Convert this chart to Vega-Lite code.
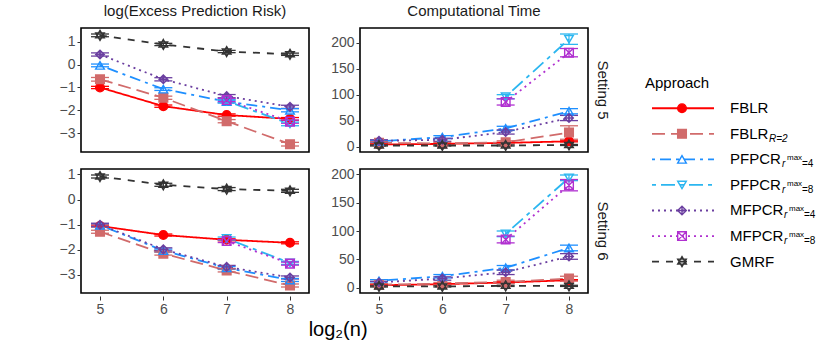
{
  "$schema": "https://vega.github.io/schema/vega-lite/v6.json",
  "padding": {"left": 58, "top": 4, "right": 0, "bottom": 0},
  "config": {
    "font": "Liberation Sans",
    "view": {"stroke": "#000000", "strokeWidth": 1.6},
    "axis": {"domain": false, "grid": false, "labelFontSize": 14, "labelColor": "#4D4D4D", "tickColor": "#333333", "tickSize": 4, "labelPadding": 2},
    "header": {"labelFontSize": 15, "labelColor": "#1A1A1A"},
    "concat": {"spacing": 24}
  },
  "datasets": {
    "main": [
      {"s":5,"m":"L","a":"FBLR","n":5,"v":-1.00,"lo":-1.05,"hi":-0.95},
      {"s":5,"m":"L","a":"FBLR","n":6,"v":-1.82,"lo":-1.87,"hi":-1.77},
      {"s":5,"m":"L","a":"FBLR","n":7,"v":-2.21,"lo":-2.26,"hi":-2.16},
      {"s":5,"m":"L","a":"FBLR","n":8,"v":-2.38,"lo":-2.44,"hi":-2.32},
      {"s":5,"m":"L","a":"R2","n":5,"v":-0.64,"lo":-0.72,"hi":-0.56},
      {"s":5,"m":"L","a":"R2","n":6,"v":-1.45,"lo":-1.52,"hi":-1.38},
      {"s":5,"m":"L","a":"R2","n":7,"v":-2.48,"lo":-2.55,"hi":-2.41},
      {"s":5,"m":"L","a":"R2","n":8,"v":-3.49,"lo":-3.57,"hi":-3.41},
      {"s":5,"m":"L","a":"PF4","n":5,"v":-0.03,"lo":-0.09,"hi":0.03},
      {"s":5,"m":"L","a":"PF4","n":6,"v":-1.07,"lo":-1.13,"hi":-1.01},
      {"s":5,"m":"L","a":"PF4","n":7,"v":-1.62,"lo":-1.68,"hi":-1.56},
      {"s":5,"m":"L","a":"PF4","n":8,"v":-2.00,"lo":-2.07,"hi":-1.93},
      {"s":5,"m":"L","a":"PF8","n":7,"v":-1.60,"lo":-1.67,"hi":-1.53},
      {"s":5,"m":"L","a":"PF8","n":8,"v":-2.60,"lo":-2.68,"hi":-2.52},
      {"s":5,"m":"L","a":"MF4","n":5,"v":0.45,"lo":0.38,"hi":0.52},
      {"s":5,"m":"L","a":"MF4","n":6,"v":-0.64,"lo":-0.71,"hi":-0.57},
      {"s":5,"m":"L","a":"MF4","n":7,"v":-1.38,"lo":-1.45,"hi":-1.31},
      {"s":5,"m":"L","a":"MF4","n":8,"v":-1.85,"lo":-1.92,"hi":-1.78},
      {"s":5,"m":"L","a":"MF8","n":7,"v":-1.55,"lo":-1.62,"hi":-1.48},
      {"s":5,"m":"L","a":"MF8","n":8,"v":-2.50,"lo":-2.57,"hi":-2.43},
      {"s":5,"m":"L","a":"GMRF","n":5,"v":1.29,"lo":1.23,"hi":1.35},
      {"s":5,"m":"L","a":"GMRF","n":6,"v":0.89,"lo":0.84,"hi":0.94},
      {"s":5,"m":"L","a":"GMRF","n":7,"v":0.58,"lo":0.53,"hi":0.63},
      {"s":5,"m":"L","a":"GMRF","n":8,"v":0.46,"lo":0.41,"hi":0.51},

      {"s":6,"m":"L","a":"FBLR","n":5,"v":-1.05,"lo":-1.09,"hi":-1.01},
      {"s":6,"m":"L","a":"FBLR","n":6,"v":-1.41,"lo":-1.45,"hi":-1.37},
      {"s":6,"m":"L","a":"FBLR","n":7,"v":-1.60,"lo":-1.64,"hi":-1.56},
      {"s":6,"m":"L","a":"FBLR","n":8,"v":-1.72,"lo":-1.76,"hi":-1.68},
      {"s":6,"m":"L","a":"R2","n":5,"v":-1.28,"lo":-1.34,"hi":-1.22},
      {"s":6,"m":"L","a":"R2","n":6,"v":-2.15,"lo":-2.21,"hi":-2.09},
      {"s":6,"m":"L","a":"R2","n":7,"v":-2.82,"lo":-2.88,"hi":-2.76},
      {"s":6,"m":"L","a":"R2","n":8,"v":-3.42,"lo":-3.48,"hi":-3.36},
      {"s":6,"m":"L","a":"PF4","n":5,"v":-1.02,"lo":-1.08,"hi":-0.96},
      {"s":6,"m":"L","a":"PF4","n":6,"v":-2.03,"lo":-2.09,"hi":-1.97},
      {"s":6,"m":"L","a":"PF4","n":7,"v":-2.72,"lo":-2.78,"hi":-2.66},
      {"s":6,"m":"L","a":"PF4","n":8,"v":-3.20,"lo":-3.26,"hi":-3.14},
      {"s":6,"m":"L","a":"PF8","n":7,"v":-1.55,"lo":-1.61,"hi":-1.49},
      {"s":6,"m":"L","a":"PF8","n":8,"v":-2.52,"lo":-2.58,"hi":-2.46},
      {"s":6,"m":"L","a":"MF4","n":5,"v":-1.00,"lo":-1.06,"hi":-0.94},
      {"s":6,"m":"L","a":"MF4","n":6,"v":-1.98,"lo":-2.04,"hi":-1.92},
      {"s":6,"m":"L","a":"MF4","n":7,"v":-2.68,"lo":-2.74,"hi":-2.62},
      {"s":6,"m":"L","a":"MF4","n":8,"v":-3.10,"lo":-3.16,"hi":-3.04},
      {"s":6,"m":"L","a":"MF8","n":7,"v":-1.65,"lo":-1.71,"hi":-1.59},
      {"s":6,"m":"L","a":"MF8","n":8,"v":-2.55,"lo":-2.61,"hi":-2.49},
      {"s":6,"m":"L","a":"GMRF","n":5,"v":0.92,"lo":0.86,"hi":0.98},
      {"s":6,"m":"L","a":"GMRF","n":6,"v":0.59,"lo":0.53,"hi":0.65},
      {"s":6,"m":"L","a":"GMRF","n":7,"v":0.42,"lo":0.36,"hi":0.48},
      {"s":6,"m":"L","a":"GMRF","n":8,"v":0.35,"lo":0.29,"hi":0.41},

      {"s":5,"m":"T","a":"FBLR","n":5,"v":4,"lo":3,"hi":5},
      {"s":5,"m":"T","a":"FBLR","n":6,"v":5,"lo":4,"hi":6},
      {"s":5,"m":"T","a":"FBLR","n":7,"v":7,"lo":6,"hi":8},
      {"s":5,"m":"T","a":"FBLR","n":8,"v":10,"lo":9,"hi":11},
      {"s":5,"m":"T","a":"R2","n":5,"v":7,"lo":5,"hi":9},
      {"s":5,"m":"T","a":"R2","n":6,"v":6,"lo":4,"hi":8},
      {"s":5,"m":"T","a":"R2","n":7,"v":8,"lo":5,"hi":11},
      {"s":5,"m":"T","a":"R2","n":8,"v":27,"lo":14,"hi":40},
      {"s":5,"m":"T","a":"PF4","n":5,"v":10,"lo":8,"hi":12},
      {"s":5,"m":"T","a":"PF4","n":6,"v":18,"lo":15,"hi":21},
      {"s":5,"m":"T","a":"PF4","n":7,"v":35,"lo":31,"hi":39},
      {"s":5,"m":"T","a":"PF4","n":8,"v":68,"lo":63,"hi":73},
      {"s":5,"m":"T","a":"PF8","n":7,"v":96,"lo":92,"hi":100},
      {"s":5,"m":"T","a":"PF8","n":8,"v":207,"lo":197,"hi":217},
      {"s":5,"m":"T","a":"MF4","n":5,"v":11,"lo":9,"hi":13},
      {"s":5,"m":"T","a":"MF4","n":6,"v":13,"lo":10,"hi":16},
      {"s":5,"m":"T","a":"MF4","n":7,"v":28,"lo":24,"hi":32},
      {"s":5,"m":"T","a":"MF4","n":8,"v":55,"lo":50,"hi":60},
      {"s":5,"m":"T","a":"MF8","n":7,"v":86,"lo":80,"hi":92},
      {"s":5,"m":"T","a":"MF8","n":8,"v":181,"lo":173,"hi":189},
      {"s":5,"m":"T","a":"GMRF","n":5,"v":2,"lo":1,"hi":3},
      {"s":5,"m":"T","a":"GMRF","n":6,"v":2,"lo":1,"hi":3},
      {"s":5,"m":"T","a":"GMRF","n":7,"v":2,"lo":1,"hi":3},
      {"s":5,"m":"T","a":"GMRF","n":8,"v":3,"lo":2,"hi":4},

      {"s":6,"m":"T","a":"FBLR","n":5,"v":4,"lo":3,"hi":5},
      {"s":6,"m":"T","a":"FBLR","n":6,"v":6,"lo":5,"hi":7},
      {"s":6,"m":"T","a":"FBLR","n":7,"v":9,"lo":8,"hi":10},
      {"s":6,"m":"T","a":"FBLR","n":8,"v":13,"lo":12,"hi":14},
      {"s":6,"m":"T","a":"R2","n":5,"v":5,"lo":3,"hi":7},
      {"s":6,"m":"T","a":"R2","n":6,"v":7,"lo":5,"hi":9},
      {"s":6,"m":"T","a":"R2","n":7,"v":10,"lo":7,"hi":13},
      {"s":6,"m":"T","a":"R2","n":8,"v":16,"lo":12,"hi":20},
      {"s":6,"m":"T","a":"PF4","n":5,"v":12,"lo":10,"hi":14},
      {"s":6,"m":"T","a":"PF4","n":6,"v":20,"lo":17,"hi":23},
      {"s":6,"m":"T","a":"PF4","n":7,"v":35,"lo":31,"hi":39},
      {"s":6,"m":"T","a":"PF4","n":8,"v":70,"lo":65,"hi":75},
      {"s":6,"m":"T","a":"PF8","n":7,"v":95,"lo":90,"hi":100},
      {"s":6,"m":"T","a":"PF8","n":8,"v":194,"lo":189,"hi":199},
      {"s":6,"m":"T","a":"MF4","n":5,"v":9,"lo":7,"hi":11},
      {"s":6,"m":"T","a":"MF4","n":6,"v":16,"lo":13,"hi":19},
      {"s":6,"m":"T","a":"MF4","n":7,"v":27,"lo":23,"hi":31},
      {"s":6,"m":"T","a":"MF4","n":8,"v":55,"lo":50,"hi":60},
      {"s":6,"m":"T","a":"MF8","n":7,"v":85,"lo":79,"hi":91},
      {"s":6,"m":"T","a":"MF8","n":8,"v":181,"lo":171,"hi":191},
      {"s":6,"m":"T","a":"GMRF","n":5,"v":2,"lo":1,"hi":3},
      {"s":6,"m":"T","a":"GMRF","n":6,"v":2,"lo":1,"hi":3},
      {"s":6,"m":"T","a":"GMRF","n":7,"v":3,"lo":2,"hi":4},
      {"s":6,"m":"T","a":"GMRF","n":8,"v":3,"lo":2,"hi":4}
    ],
    "leg": [
      {"a":"HEAD","idx":0,"main":"Approach"},
      {"a":"FBLR","idx":1,"main":"FBLR"},
      {"a":"R2","idx":2,"main":"FBLR","sub":"R=2"},
      {"a":"PF4","idx":3,"main":"PFPCR","eq":"=4"},
      {"a":"PF8","idx":4,"main":"PFPCR","eq":"=8"},
      {"a":"MF4","idx":5,"main":"MFPCR","eq":"=4"},
      {"a":"MF8","idx":6,"main":"MFPCR","eq":"=8"},
      {"a":"GMRF","idx":7,"main":"GMRF"}
    ]
  },
  "resolve": {"scale": {"x": "independent", "y": "independent"}},
  "hconcat": [
    {
      "data": {"name": "main"},
      "title": {"text": "log₂(n)", "orient": "bottom", "fontSize": 20, "fontWeight": "normal", "color": "#000000", "offset": 4, "anchor": "middle", "dx": 4},
      "facet": {
        "row": {"field": "s", "type": "ordinal", "header": {"title": null, "labelOrient": "right", "labelAngle": 90, "labelPadding": 6, "labelExpr": "'Setting ' + datum.value"}},
        "column": {"field": "m", "type": "nominal", "header": {"title": null, "labelPadding": 7, "labelExpr": "datum.value == 'L' ? 'log(Excess Prediction Risk)' : 'Computational Time'"}}
      },
      "spacing": {"row": 11, "column": 19},
      "resolve": {"scale": {"y": "independent"}, "axis": {"y": "independent"}},
      "spec": {
        "width": 228,
        "height": 124,
        "encoding": {
          "x": {"field": "n", "type": "quantitative", "scale": {"domain": [4.7, 8.3], "nice": false, "zero": false}, "axis": {"values": [5, 6, 7, 8], "format": "d", "title": null}}
        },
        "layer": [
          {
            "mark": {"type": "line", "strokeWidth": 1.8},
            "encoding": {
              "y": {"field": "v", "type": "quantitative", "scale": {"zero": false, "nice": false, "padding": 6}, "axis": {"tickCount": 5, "title": null}},
              "color": {"field": "a", "type": "nominal", "scale": {"domain": ["FBLR","R2","PF4","PF8","MF4","MF8","GMRF"], "range": ["#FF0000","#D16B6B","#1E8FFF","#2CB6F0","#6B3FA0","#B030D0","#333333"]}, "legend": null},
              "strokeDash": {"field": "a", "type": "nominal", "scale": {"domain": ["FBLR","R2","PF4","PF8","MF4","MF8","GMRF"], "range": [[1,0],[13,6],[3,5,11,5],[4,5,14,5],[2,4],[2,4],[7,7]]}, "legend": null}
            }
          },
          {
            "mark": {"type": "rule", "strokeWidth": 1.2},
            "encoding": {
              "y": {"field": "lo", "type": "quantitative"},
              "y2": {"field": "hi"},
              "color": {"field": "a", "type": "nominal", "legend": null}
            }
          },
          {
            "mark": {"type": "tick", "orient": "horizontal", "size": 18, "thickness": 1.3, "opacity": 1},
            "encoding": {
              "y": {"field": "lo", "type": "quantitative"},
              "color": {"field": "a", "type": "nominal", "legend": null}
            }
          },
          {
            "mark": {"type": "tick", "orient": "horizontal", "size": 18, "thickness": 1.3, "opacity": 1},
            "encoding": {
              "y": {"field": "hi", "type": "quantitative"},
              "color": {"field": "a", "type": "nominal", "legend": null}
            }
          },
          {
            "mark": {"type": "point", "strokeWidth": 1.4, "opacity": 1},
            "encoding": {
              "y": {"field": "v", "type": "quantitative"},
              "stroke": {"field": "a", "type": "nominal", "scale": {"domain": ["FBLR","R2","PF4","PF8","MF4","MF8","GMRF"], "range": ["#FF0000","#D16B6B","#1E8FFF","#2CB6F0","#6B3FA0","#B030D0","#333333"]}, "legend": null},
              "fill": {"field": "a", "type": "nominal", "scale": {"domain": ["FBLR","R2","PF4","PF8","MF4","MF8","GMRF"], "range": ["#FF0000","#D16B6B","transparent","transparent","transparent","transparent","transparent"]}, "legend": null},
              "shape": {"field": "a", "type": "nominal", "scale": {"domain": ["FBLR","R2","PF4","PF8","MF4","MF8","GMRF"], "range": ["circle","square","triangle-up","triangle-down","M0,-1L1,0L0,1L-1,0Z M0,-1L0,1 M-1,0L1,0","M-1,-1L1,-1L1,1L-1,1Z M-1,-1L1,1 M-1,1L1,-1","M0,-1.15L1,0.58L-1,0.58Z M0,1.15L1,-0.58L-1,-0.58Z"]}, "legend": null},
              "size": {"field": "a", "type": "nominal", "scale": {"domain": ["FBLR","R2","PF4","PF8","MF4","MF8","GMRF"], "range": [75, 75, 150, 150, 250, 150, 250]}, "legend": null}
            }
          }
        ]
      }
    },
    {
      "data": {"name": "leg"},
      "width": 190,
      "height": 332,
      "view": {"stroke": null},
      "encoding": {
        "y": {"field": "idx", "type": "quantitative", "scale": {"domain": [-2.14, 10.85], "reverse": true, "nice": false, "zero": false}, "axis": null}
      },
      "layer": [
        {
          "transform": [{"filter": "datum.idx == 0"}],
          "mark": {"type": "text", "align": "left", "baseline": "middle", "fontSize": 15, "color": "#000000"},
          "encoding": {
            "x": {"datum": 11, "type": "quantitative", "scale": {"domain": [0, 190], "nice": false, "zero": false}, "axis": null},
            "text": {"field": "main"}
          }
        },
        {
          "transform": [{"filter": "datum.idx > 0"}],
          "mark": {"type": "rule", "strokeWidth": 1.8},
          "encoding": {
            "x": {"datum": 18, "type": "quantitative"},
            "x2": {"datum": 80},
            "color": {"field": "a", "type": "nominal", "legend": null},
            "strokeDash": {"field": "a", "type": "nominal", "legend": null}
          }
        },
        {
          "transform": [{"filter": "datum.idx > 0"}],
          "mark": {"type": "point", "strokeWidth": 1.4, "opacity": 1},
          "encoding": {
            "x": {"datum": 48, "type": "quantitative"},
            "stroke": {"field": "a", "type": "nominal", "legend": null},
            "fill": {"field": "a", "type": "nominal", "legend": null},
            "shape": {"field": "a", "type": "nominal", "legend": null},
            "size": {"field": "a", "type": "nominal", "legend": null}
          }
        },
        {
          "transform": [{"filter": "datum.idx > 0"}],
          "mark": {"type": "text", "align": "left", "baseline": "middle", "fontSize": 15, "color": "#000000"},
          "encoding": {"x": {"datum": 96, "type": "quantitative"}, "text": {"field": "main"}}
        },
        {
          "transform": [{"filter": "datum.a == 'R2'"}],
          "mark": {"type": "text", "align": "left", "baseline": "middle", "fontSize": 10, "fontStyle": "italic", "color": "#000000", "dx": 39, "dy": 5},
          "encoding": {"x": {"datum": 96, "type": "quantitative"}, "text": {"field": "sub"}}
        },
        {
          "transform": [{"filter": "datum.main == 'PFPCR'"}],
          "mark": {"type": "text", "align": "left", "baseline": "middle", "fontSize": 10, "fontStyle": "italic", "color": "#000000", "dx": 52, "dy": 5, "text": "r"},
          "encoding": {"x": {"datum": 96, "type": "quantitative"}}
        },
        {
          "transform": [{"filter": "datum.main == 'PFPCR'"}],
          "mark": {"type": "text", "align": "left", "baseline": "middle", "fontSize": 8, "color": "#000000", "dx": 57, "dy": -1, "text": "max"},
          "encoding": {"x": {"datum": 96, "type": "quantitative"}}
        },
        {
          "transform": [{"filter": "datum.main == 'PFPCR'"}],
          "mark": {"type": "text", "align": "left", "baseline": "middle", "fontSize": 10, "color": "#000000", "dx": 72, "dy": 5},
          "encoding": {"x": {"datum": 96, "type": "quantitative"}, "text": {"field": "eq"}}
        },
        {
          "transform": [{"filter": "datum.main == 'MFPCR'"}],
          "mark": {"type": "text", "align": "left", "baseline": "middle", "fontSize": 10, "fontStyle": "italic", "color": "#000000", "dx": 54, "dy": 5, "text": "r"},
          "encoding": {"x": {"datum": 96, "type": "quantitative"}}
        },
        {
          "transform": [{"filter": "datum.main == 'MFPCR'"}],
          "mark": {"type": "text", "align": "left", "baseline": "middle", "fontSize": 8, "color": "#000000", "dx": 59, "dy": -1, "text": "max"},
          "encoding": {"x": {"datum": 96, "type": "quantitative"}}
        },
        {
          "transform": [{"filter": "datum.main == 'MFPCR'"}],
          "mark": {"type": "text", "align": "left", "baseline": "middle", "fontSize": 10, "color": "#000000", "dx": 74, "dy": 5},
          "encoding": {"x": {"datum": 96, "type": "quantitative"}, "text": {"field": "eq"}}
        }
      ]
    }
  ]
}
